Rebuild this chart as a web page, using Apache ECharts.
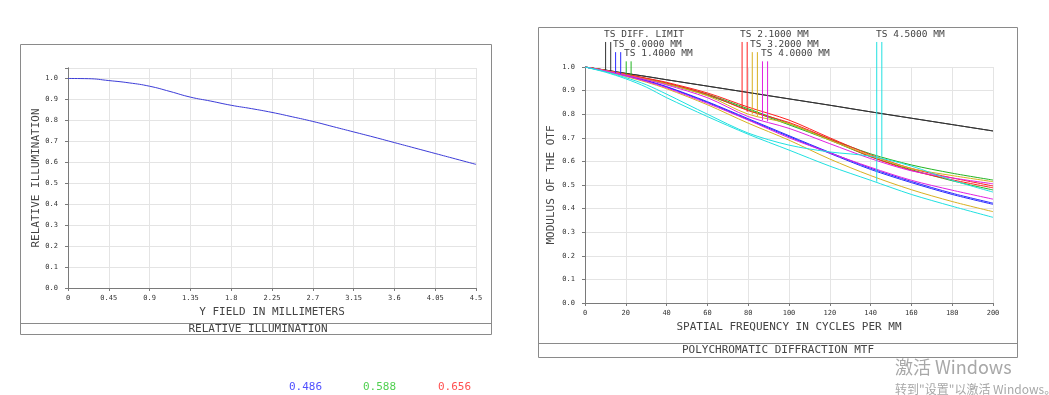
<!DOCTYPE html>
<html><head><meta charset="utf-8">
<script src="https://cdn.jsdelivr.net/npm/echarts@6/dist/echarts.min.js"></script>
<style>html,body{margin:0;padding:0;background:#fff}#c{width:1049px;height:395px}</style>
</head><body><div id="c"></div>
<script>
// ---------- Relative illumination ----------
const riField = [0,0.225,0.45,0.675,0.9,1.125,1.35,1.575,1.8,2.025,2.25,2.475,2.7,2.925,3.15,3.375,3.6,3.825,4.05,4.275,4.5];
const riValue = [1.000,0.999,0.990,0.979,0.963,0.938,0.911,0.892,0.872,0.856,0.838,0.817,0.795,0.770,0.745,0.720,0.694,0.668,0.642,0.616,0.590];

// ---------- MTF ----------
const freq = [0,10,20,30,40,60,80,100,120,140,160,180,200];
const diffLimit = [1,0.987,0.973,0.960,0.946,0.919,0.892,0.865,0.838,0.810,0.783,0.756,0.729];
const f00T = [1,0.984,0.964,0.941,0.915,0.850,0.777,0.705,0.634,0.566,0.510,0.460,0.418];
const f00S = [1,0.984,0.965,0.943,0.917,0.853,0.781,0.709,0.638,0.571,0.515,0.465,0.423];
const f14T = [1,0.986,0.969,0.951,0.932,0.885,0.823,0.760,0.695,0.632,0.585,0.550,0.521];
const f14S = [1,0.985,0.967,0.948,0.928,0.880,0.818,0.755,0.690,0.620,0.565,0.518,0.479];
const f21T = [1,0.986,0.970,0.953,0.935,0.890,0.830,0.775,0.700,0.628,0.570,0.530,0.496];
const f21S = [1,0.985,0.968,0.950,0.931,0.884,0.815,0.765,0.695,0.620,0.562,0.522,0.488];
const f32T = [1,0.982,0.960,0.936,0.908,0.840,0.762,0.690,0.610,0.540,0.480,0.430,0.387];
const f32S = [1,0.985,0.967,0.948,0.928,0.878,0.800,0.760,0.690,0.625,0.570,0.540,0.514];
const f40T = [1,0.983,0.962,0.939,0.912,0.846,0.775,0.700,0.636,0.575,0.520,0.478,0.440];
const f40S = [1,0.984,0.966,0.946,0.924,0.870,0.790,0.740,0.675,0.612,0.560,0.530,0.505];
const f45T = [1,0.978,0.950,0.915,0.870,0.790,0.715,0.648,0.580,0.520,0.460,0.410,0.363];
const f45S = [1,0.980,0.955,0.925,0.885,0.800,0.720,0.669,0.640,0.622,0.580,0.520,0.470];

const mtfCurves = [
  {name:'TS DIFF. LIMIT', color:'#333333', T:diffLimit, S:diffLimit},
  {name:'TS 0.0000 MM', color:'#2a2aff', T:f00T, S:f00S},
  {name:'TS 1.4000 MM', color:'#22b422', T:f14T, S:f14S},
  {name:'TS 2.1000 MM', color:'#ff2020', T:f21T, S:f21S},
  {name:'TS 3.2000 MM', color:'#d8b020', T:f32T, S:f32S},
  {name:'TS 4.0000 MM', color:'#e020e0', T:f40T, S:f40S},
  {name:'TS 4.5000 MM', color:'#20e0e0', T:f45T, S:f45S}
];
// marker lines under the labels
const markerFreqT = [10.1,15.0,20.2,77.0,82.0,87.0,143.0];
const markerFreqS = [12.6,17.5,22.6,79.5,84.5,89.5,145.5];
const markerValT  = [0.987,0.975,0.968,0.824,0.800,0.775,0.514];
const markerValS  = [0.983,0.970,0.964,0.810,0.790,0.770,0.620];
const markerTop   = [1.106,1.063,1.024,1.106,1.063,1.024,1.106];
const labelX      = [604,613,624,740,750,761,876];
const labelY      = [35,45,54,35,45,54,35];

const wavelengths = ['0.486','0.588','0.656'];
const waveColors = ['#5050ff','#50d050','#ff5050'];
const waveX = [289,363,438];

const MONO = '"DejaVu Sans Mono", "Liberation Mono", monospace';
const chart = echarts.init(document.getElementById('c'), null, {renderer:'canvas'});

function fmtNum(v){ return String(+v.toFixed(2)); }
function fmtY(v){ return Math.abs(v*10 - Math.round(v*10)) < 1e-6 ? v.toFixed(1) : ''; }

const axisLineStyle = {lineStyle:{color:'#7a7a7a', width:1}};
const splitStyle = {show:true, lineStyle:{color:'#e4e4e4', width:1}};
const labStyle = {fontSize:7, fontFamily:MONO, color:'#333'};
const nameStyle = {fontSize:11, fontFamily:MONO, color:'#444'};

const series = [];
series.push({type:'line', xAxisIndex:0, yAxisIndex:0, data: riField.map((x,i)=>[x,riValue[i]]),
  symbol:'none', smooth:true, lineStyle:{color:'#3c3cd8', width:1}, silent:true, animation:false});
mtfCurves.forEach(c=>{
  ['T','S'].forEach(k=>{
    series.push({type:'line', xAxisIndex:2, yAxisIndex:2, data: freq.map((f,i)=>[f,c[k][i]]),
      symbol:'none', smooth:0.3, lineStyle:{color:c.color, width:1}, silent:true, animation:false});
  });
});
mtfCurves.forEach((c,i)=>{
  series.push({type:'line', xAxisIndex:2, yAxisIndex:2, clip:false, symbol:'none', silent:true, animation:false,
    data:[[markerFreqT[i],markerValT[i]],[markerFreqT[i],markerTop[i]]], lineStyle:{color:c.color,width:1}});
  series.push({type:'line', xAxisIndex:2, yAxisIndex:2, clip:false, symbol:'none', silent:true, animation:false,
    data:[[markerFreqS[i],markerValS[i]],[markerFreqS[i],markerTop[i]]], lineStyle:{color:c.color,width:1}});
});

const graphics = [
  {type:'rect', shape:{x:20.5,y:44.5,width:471,height:290}, style:{fill:'none',stroke:'#8a8a8a',lineWidth:1}, silent:true},
  {type:'line', shape:{x1:20.5,y1:323.5,x2:491.5,y2:323.5}, style:{stroke:'#8a8a8a',lineWidth:1}, silent:true},
  {type:'text', x:258, y:329, style:{text:'RELATIVE ILLUMINATION', font:'11px '+MONO, fill:'#444', align:'center', verticalAlign:'middle'}, silent:true},
  {type:'rect', shape:{x:538.5,y:27.5,width:479,height:330}, style:{fill:'none',stroke:'#8a8a8a',lineWidth:1}, silent:true},
  {type:'line', shape:{x1:538.5,y1:343.5,x2:1017.5,y2:343.5}, style:{stroke:'#8a8a8a',lineWidth:1}, silent:true},
  {type:'text', x:778, y:350, style:{text:'POLYCHROMATIC DIFFRACTION MTF', font:'11px '+MONO, fill:'#444', align:'center', verticalAlign:'middle'}, silent:true},
  {type:'text', x:895, y:367, style:{text:'激活 Windows', font:'18px "Noto Sans CJK SC", sans-serif', fill:'#a8a8a8', align:'left', verticalAlign:'middle'}, silent:true},
  {type:'text', x:895, y:389, style:{text:'转到"设置"以激活 Windows。', font:'12px "Noto Sans CJK SC", sans-serif', fill:'#a8a8a8', align:'left', verticalAlign:'middle'}, silent:true}
];
mtfCurves.forEach((c,i)=>{
  graphics.push({type:'text', x:labelX[i], y:labelY[i], style:{text:c.name, font:'9.5px '+MONO, fill:'#444', align:'left', verticalAlign:'middle'}, silent:true});
});
wavelengths.forEach((w,i)=>{
  graphics.push({type:'text', x:waveX[i], y:387, style:{text:w, font:'11px '+MONO, fill:waveColors[i], align:'left', verticalAlign:'middle'}, silent:true});
});

const option = {
  animation:false,
  backgroundColor:'#fff',
  grid:[
    {left:68, top:68, width:408, height:220, show:false},
    {left:585, top:67, width:408, height:236, show:false}
  ],
  xAxis:[
    {gridIndex:0, type:'value', min:0, max:4.5, interval:0.45, position:'bottom',
     axisLine:axisLineStyle, axisTick:{show:false}, splitLine:splitStyle,
     axisLabel:{...labStyle, margin:7, formatter:fmtNum},
     name:'Y FIELD IN MILLIMETERS', nameLocation:'middle', nameGap:15, nameTextStyle:nameStyle},
    {gridIndex:0, type:'value', min:0, max:4.5, interval:0.45, position:'top',
     axisLine:axisLineStyle, axisTick:{show:true, inside:true, length:3, lineStyle:{color:'#7a7a7a'}}, axisLabel:{show:false}, splitLine:{show:false}},
    {gridIndex:1, type:'value', min:0, max:200, interval:20, position:'bottom',
     axisLine:axisLineStyle, axisTick:{show:false}, splitLine:splitStyle,
     axisLabel:{...labStyle, margin:7},
     name:'SPATIAL FREQUENCY IN CYCLES PER MM', nameLocation:'middle', nameGap:15, nameTextStyle:nameStyle},
    {gridIndex:1, type:'value', min:0, max:200, interval:20, position:'top',
     axisLine:axisLineStyle, axisTick:{show:true, inside:true, length:3, lineStyle:{color:'#7a7a7a'}}, axisLabel:{show:false}, splitLine:{show:false}}
  ],
  yAxis:[
    {gridIndex:0, type:'value', min:0, max:1.05, interval:0.1, position:'left',
     axisLine:axisLineStyle, axisTick:{show:false}, splitLine:splitStyle,
     axisLabel:{...labStyle, margin:10, formatter:fmtY},
     name:'RELATIVE ILLUMINATION', nameLocation:'middle', nameGap:25, nameRotate:90, nameTextStyle:nameStyle},
    {gridIndex:0, type:'value', min:0, max:1.05, interval:0.1, position:'right',
     axisLine:axisLineStyle, axisTick:{show:true, inside:true, length:3, lineStyle:{color:'#7a7a7a'}}, axisLabel:{show:false}, splitLine:{show:false}},
    {gridIndex:1, type:'value', min:0, max:1.0, interval:0.1, position:'left',
     axisLine:axisLineStyle, axisTick:{show:false}, splitLine:splitStyle,
     axisLabel:{...labStyle, margin:10, formatter:v=>v.toFixed(1)},
     name:'MODULUS OF THE OTF', nameLocation:'middle', nameGap:28, nameRotate:90, nameTextStyle:nameStyle},
    {gridIndex:1, type:'value', min:0, max:1.0, interval:0.1, position:'right',
     axisLine:axisLineStyle, axisTick:{show:true, inside:true, length:3, lineStyle:{color:'#7a7a7a'}}, axisLabel:{show:false}, splitLine:{show:false}}
  ],
  series: series,
  graphic: graphics
};
chart.setOption(option);
</script>
</body></html>
